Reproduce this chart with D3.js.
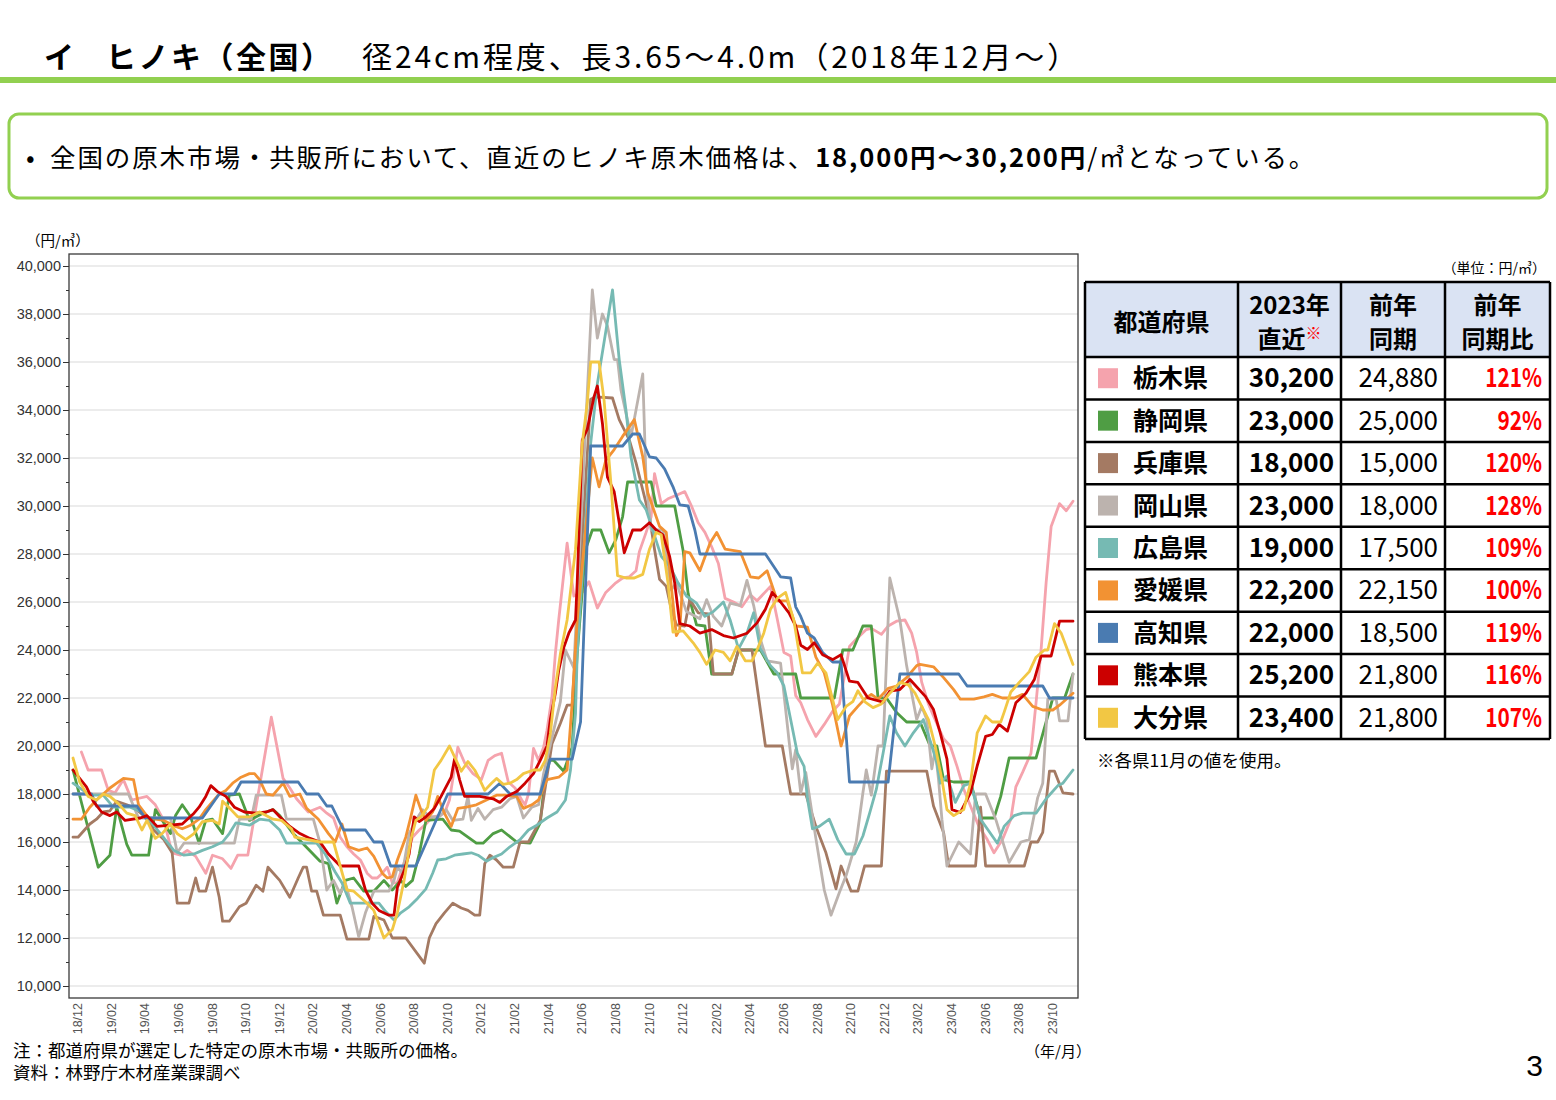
<!DOCTYPE html>
<html><head><meta charset="utf-8">
<script src="https://cdn.jsdelivr.net/npm/d3@7"></script>
<style>body{margin:0;background:#fff}svg{display:block}</style>
</head><body>
<svg id="c" width="1556" height="1100"></svg>
<script>
// ---- DATA (x = months since 2018/12, half-month resolution; y = 円/㎥) ----
const monthLabels = ["18/12","19/02","19/04","19/06","19/08","19/10","19/12","20/02","20/04","20/06","20/08","20/10","20/12","21/02","21/04","21/06","21/08","21/10","21/12","22/02","22/04","22/06","22/08","22/10","22/12","23/02","23/04","23/06","23/08","23/10"];
const yMajorTicks = [10000,12000,14000,16000,18000,20000,22000,24000,26000,28000,30000,32000,34000,36000,38000,40000];
const yMinorTicks = [11000,13000,15000,17000,19000,21000,23000,25000,27000,29000,31000,33000,35000,37000,39000];

const tochigi = [[0.5,19750],[0.9,19000],[1.7,19000],[2.1,18150],[2.5,18050],[3.0,18600],[3.5,17750],[4.4,17900],[4.9,17550],[5.4,16900],[5.9,15550],[6.4,15450],[6.8,15650],[7.3,15400],[7.9,14700],[8.3,15450],[8.9,15300],[9.4,14900],[9.8,15450],[10.4,15450],[11.8,21200],[12.5,18650],[12.9,18250],[13.3,17800],[14.0,17250],[14.7,17450],[15.1,17200],[15.5,17000],[15.9,16200],[16.3,15800],[16.7,15500],[17.1,15250],[17.5,14700],[17.8,14500],[18.1,14500],[18.4,14700],[18.7,14950],[19.0,14300],[19.3,14300],[19.6,14950],[19.9,15500],[20.2,16200],[20.6,16500],[21.0,16750],[21.4,17050],[21.8,17100],[22.1,17200],[22.4,17750],[22.9,19950],[23.3,19300],[23.8,18850],[24.3,18600],[24.7,19400],[25.1,19600],[25.5,19700],[25.9,18500],[26.3,18250],[26.7,17750],[26.9,17550],[27.1,18000],[27.4,19900],[27.7,19400],[28.0,19950],[28.2,20650],[28.5,22050],[28.7,23850],[28.9,25250],[29.4,28450],[29.8,26250],[30.3,26400],[30.7,26850],[31.2,25750],[31.7,26400],[32.3,26800],[32.7,27000],[33.1,27050],[33.5,27300],[33.7,28100],[34.1,28900],[34.4,29550],[34.6,31350],[35.0,30100],[35.4,30300],[35.9,30450],[36.4,30600],[36.8,30000],[37.2,29300],[37.6,28900],[38.0,28300],[38.4,27600],[38.8,26150],[39.3,26000],[39.8,25800],[40.3,26300],[40.7,26050],[41.5,26650],[41.9,25300],[42.3,23900],[42.7,23750],[43.0,22100],[43.3,21800],[43.7,21100],[44.2,20400],[44.7,20900],[45.2,21450],[45.6,21750],[46.0,23300],[46.2,24150],[46.6,24450],[47.2,24850],[47.5,24900],[48.1,24650],[48.5,25000],[49.0,25200],[49.5,25250],[49.9,24700],[50.2,23900],[50.5,22650],[50.9,21750],[51.2,21250],[51.8,20300],[52.2,20000],[52.6,19150],[53.0,18200],[53.4,17500],[53.9,16650],[54.4,16100],[54.8,15550],[55.3,16100],[55.8,16950],[56.1,18300],[56.5,18900],[57.0,19700],[57.3,21800],[57.6,24000],[57.9,26800],[58.2,29150],[58.7,30100],[59.1,29800],[59.5,30200]];

const shizuoka = [[0,19000],[1.5,14950],[2.2,15450],[2.6,17450],[3.2,15900],[3.5,15450],[4.5,15450],[4.9,17350],[5.8,16350],[6.1,17100],[6.5,17550],[7.0,17050],[7.5,15950],[7.9,16900],[8.3,16950],[8.9,16350],[9.3,17950],[9.9,18000],[10.5,16900],[11.3,17200],[11.9,17350],[12.3,17100],[13.1,16350],[14.7,15200],[15.2,15100],[15.7,13450],[16.2,14400],[16.7,14500],[17.3,13950],[17.9,13950],[18.5,14400],[19.0,14000],[19.5,14400],[19.8,14150],[20.2,14400],[20.6,15500],[21.0,16900],[22.0,16950],[22.5,16500],[23.0,16450],[24.0,15950],[24.4,15950],[25.0,16350],[25.5,16500],[26.4,16000],[27.2,15950],[27.8,16800],[28.2,19400],[28.6,19400],[29.2,18950],[29.7,19950],[30.0,23850],[30.5,28200],[30.9,29000],[31.4,29000],[31.9,28050],[32.3,28600],[32.7,29550],[33.0,31000],[34.4,31000],[34.7,30000],[35.8,30000],[36.3,28150],[36.6,26350],[37.1,25050],[37.6,25000],[38.0,23000],[39.2,23000],[39.6,24000],[40.9,24000],[41.7,23000],[43.0,23000],[43.3,22000],[45.3,22000],[45.8,24000],[46.4,24000],[47.0,25000],[47.5,25000],[47.9,22000],[48.4,22000],[49.0,21400],[49.6,21000],[50.4,21000],[51.0,20000],[51.4,20000],[51.8,18600],[52.4,18500],[53.4,18500],[54.0,17000],[54.8,17000],[55.2,17900],[55.7,19500],[57.3,19500],[57.9,21000],[58.3,22000],[59.0,22000],[59.5,23000]];

const hyogo = [[0,16200],[0.3,16200],[1.0,16750],[1.4,16950],[1.8,17250],[2.2,17300],[2.6,17700],[3.2,17550],[3.7,17400],[4.3,17050],[4.8,16500],[5.4,16100],[5.9,15550],[6.2,13450],[6.9,13450],[7.3,14500],[7.5,13950],[7.9,13950],[8.3,14950],[8.7,13700],[8.9,12700],[9.3,12700],[9.9,13300],[10.3,13450],[10.9,14200],[11.3,13950],[11.6,14950],[12.3,14400],[12.9,13700],[13.4,14500],[13.7,14950],[13.9,14950],[14.2,13950],[14.5,13950],[14.9,12950],[15.9,12950],[16.3,11950],[17.6,11950],[17.9,12900],[18.5,12750],[19.0,12000],[19.8,12000],[20.9,10950],[21.2,12000],[21.6,12600],[22.1,13050],[22.6,13450],[23.1,13250],[23.5,13150],[23.9,12950],[24.2,12950],[24.5,15100],[24.8,15450],[25.2,15250],[25.6,14950],[26.2,14950],[26.6,16000],[27.1,16000],[27.8,16900],[28.5,20100],[29.0,20950],[29.4,21700],[29.7,21700],[30.8,34450],[31.1,34550],[32.1,34500],[32.5,33600],[33.1,32750],[33.5,31800],[34.3,29550],[34.6,28200],[34.9,26950],[35.3,26650],[35.6,25700],[35.9,25050],[36.4,25000],[36.7,26100],[37.2,25550],[37.8,25500],[38.1,23000],[39.2,23000],[39.6,24000],[40.4,24000],[41.2,20000],[42.2,20000],[42.7,18000],[43.6,18000],[44.2,16650],[44.8,15550],[45.4,14050],[45.7,15000],[46.3,13950],[46.7,13950],[47.1,15000],[48.1,15000],[48.4,18950],[50.8,18950],[51.2,17500],[51.8,16400],[52.1,15000],[53.7,15000],[54.0,17450],[54.3,15000],[56.6,15000],[57.0,16000],[57.4,16000],[57.7,16400],[58.1,18950],[58.4,18950],[58.9,18050],[59.5,18000]];

const okayama = [[0,18000],[3.3,18000],[3.9,17000],[5.8,17000],[6.2,15550],[6.6,15950],[9.6,15950],[9.9,16950],[10.6,16950],[10.9,17950],[12.4,17950],[12.7,16950],[14.3,16950],[14.7,15950],[15.1,14000],[15.5,14400],[15.9,13850],[16.2,14300],[16.6,13300],[17.0,12050],[17.4,13050],[17.9,13950],[18.8,13950],[19.1,14400],[19.3,14950],[19.6,14700],[20.0,16350],[20.4,16900],[20.8,17350],[21.2,17050],[21.8,17050],[22.2,17350],[22.6,16900],[23.2,16950],[23.5,17900],[23.7,16900],[24.1,17400],[24.5,16950],[25.0,17350],[25.5,17450],[26.0,17800],[26.4,17900],[26.8,17000],[27.3,17450],[27.7,17550],[28.0,18850],[28.6,20650],[29.0,21850],[29.3,24000],[29.8,23250],[30.9,39000],[31.2,37000],[31.5,38000],[31.8,37500],[32.2,36100],[32.4,36100],[32.6,34850],[33.2,32900],[33.5,34000],[33.9,35500],[34.1,31000],[34.4,29000],[35.1,29000],[35.6,26500],[35.9,26800],[36.5,25600],[37.3,25300],[37.7,26100],[38.1,25400],[38.6,25000],[39.1,25950],[39.7,25850],[40.1,26900],[40.5,25850],[40.9,24450],[41.3,23550],[42.1,23450],[42.6,20250],[42.8,19050],[43.0,19850],[43.3,18050],[43.6,18900],[44.2,16150],[44.7,14000],[45.1,12950],[45.6,13900],[46.0,14600],[46.6,16000],[47.0,18050],[47.2,19000],[47.5,17950],[47.9,20000],[48.2,20000],[48.6,27000],[49.2,25250],[49.6,23350],[49.9,22200],[50.2,21100],[50.5,21650],[50.8,21100],[51.1,19050],[51.3,19850],[51.5,18600],[51.7,16950],[52.0,15000],[52.7,16000],[53.4,15500],[53.7,18000],[54.3,18000],[54.9,16950],[55.7,15150],[56.4,16000],[56.9,16100],[57.4,17850],[57.7,18450],[58.0,21950],[58.5,21950],[58.7,21050],[59.2,21050],[59.5,23000]];

const hiroshima = [[0,18450],[1.0,17950],[1.8,17950],[2.4,17450],[3.4,17450],[4.1,17250],[4.5,16950],[5.2,16350],[6.0,15650],[6.6,15450],[7.2,15500],[7.7,15650],[8.3,15800],[8.9,16000],[9.3,16350],[9.7,16800],[10.5,16700],[11.1,16950],[11.7,16900],[12.3,16500],[12.7,15950],[14.5,15950],[15.0,15500],[15.6,14750],[16.0,14300],[16.5,13450],[18.2,13450],[18.6,13100],[19.1,12750],[19.5,13050],[20.0,13300],[20.5,13650],[21.0,14050],[21.4,14700],[21.7,15250],[22.2,15300],[22.7,15450],[23.2,15500],[23.7,15550],[24.1,15450],[24.6,15200],[25.0,15350],[25.5,15500],[26.0,15800],[26.6,16100],[27.1,16500],[27.6,16700],[28.2,17000],[28.8,17250],[29.3,17750],[29.6,19000],[29.9,21350],[30.0,23850],[30.8,32600],[31.2,35100],[32.1,39000],[32.5,36100],[32.9,34000],[33.2,32050],[33.7,30250],[34.1,29850],[35.0,27900],[35.5,27500],[36.0,26800],[36.5,26250],[37.1,25950],[37.6,25400],[38.1,25600],[38.7,26000],[39.1,25250],[39.6,24050],[40.1,24700],[40.5,25550],[40.9,24050],[41.5,23350],[41.9,23050],[42.3,22500],[42.7,21100],[43.1,19700],[43.5,19150],[43.7,17800],[44.0,16550],[44.4,16650],[45.0,16950],[45.5,16100],[46.0,15500],[46.5,15500],[47.0,16250],[47.4,17200],[47.8,18200],[48.2,19700],[48.6,21250],[49.0,20550],[49.5,20000],[50.0,20550],[50.6,21100],[51.1,20000],[51.4,19300],[51.6,18450],[52.0,18750],[52.5,17650],[53.0,18350],[53.4,18450],[54.0,16950],[55.0,15950],[55.4,16650],[56.0,17100],[56.5,17200],[57.3,17200],[57.9,17800],[58.6,18350],[58.9,18450],[59.5,19000]];

const ehime = [[0,16950],[0.5,16950],[1.0,17450],[1.4,17750],[1.8,18000],[2.2,18250],[2.6,18450],[3.0,18650],[3.6,18600],[3.9,17550],[4.5,17000],[5.4,16900],[6.1,16650],[6.5,16550],[7.0,16700],[7.5,16950],[7.9,17350],[8.7,18000],[9.1,18150],[9.5,18450],[10.0,18700],[10.5,18850],[10.8,18850],[11.1,18600],[11.5,18000],[11.9,17950],[12.5,18450],[12.9,17900],[13.5,18000],[13.9,17400],[14.6,16950],[15.2,16350],[15.6,16000],[16.0,16750],[16.4,15800],[17.0,15650],[17.5,15750],[17.9,15400],[18.4,14700],[18.7,14500],[19.0,14550],[19.3,15250],[19.8,16200],[20.1,17050],[20.4,17950],[20.7,17350],[21.0,16900],[21.4,17250],[21.7,17900],[22.1,17200],[22.5,16650],[22.9,17400],[23.4,17450],[24.0,17550],[24.6,17750],[25.2,17950],[25.7,17950],[26.4,17900],[26.8,17400],[27.3,17550],[27.7,17750],[28.2,18600],[28.9,18700],[29.4,19000],[29.7,21800],[30.0,25250],[30.9,32000],[31.3,30800],[31.7,31900],[32.2,32350],[32.7,32900],[33.4,33600],[33.9,32050],[34.2,30550],[34.9,29150],[35.3,28900],[35.6,26650],[35.9,24600],[36.1,24850],[36.4,28100],[36.7,28050],[37.3,27300],[37.9,28450],[38.3,28900],[38.8,28200],[39.7,28100],[40.3,27050],[40.8,27000],[41.3,27300],[41.9,26050],[42.5,26050],[43.0,25000],[43.7,24950],[44.2,23700],[44.7,23050],[45.2,21700],[45.7,20000],[46.2,21250],[46.7,21650],[47.1,21950],[47.5,22150],[47.9,21950],[48.5,22400],[49.0,22500],[49.6,22850],[50.2,23350],[50.4,23400],[51.2,23300],[51.8,22850],[52.4,22350],[52.8,21950],[53.6,21950],[54.2,22050],[54.7,22150],[55.3,22000],[56.0,22000],[56.5,22150],[57.1,21650],[57.7,21500],[58.3,21500],[58.7,21700],[59.1,21950],[59.5,22200]];

const kochi = [[0,18000],[1.1,18000],[1.4,17500],[3.8,17500],[4.3,17000],[7.7,17000],[8.7,18000],[9.6,18000],[10.0,18500],[13.4,18500],[13.9,18000],[14.6,18000],[15.1,17500],[15.4,17500],[16.1,16500],[17.4,16500],[17.9,16000],[18.4,16000],[18.9,15000],[20.4,15000],[22.3,18000],[24.7,18000],[25.4,18450],[26.0,18000],[27.8,18000],[28.4,19450],[29.7,19450],[30.2,21000],[30.8,32500],[32.7,32500],[33.3,33000],[33.7,33000],[34.3,32050],[34.7,32000],[35.2,31550],[35.7,30800],[36.1,30050],[36.6,30000],[37.0,29000],[37.3,28000],[41.2,28000],[42.1,27050],[42.7,27000],[43.0,25800],[43.3,25400],[43.7,24700],[44.1,24500],[44.6,23900],[45.2,23500],[45.7,23500],[46.2,18500],[48.5,18500],[49.2,23000],[52.7,23000],[53.2,22500],[57.7,22500],[58.1,22000],[59.5,22000]];

const kumamoto = [[0,19000],[0.8,18300],[1.2,17700],[1.7,17250],[2.2,17100],[2.6,17250],[3.1,16900],[4.0,17000],[4.4,17100],[5.0,16650],[5.8,16700],[6.5,16750],[7.2,17200],[7.5,17450],[7.9,17900],[8.2,18350],[8.6,18100],[9.1,17900],[9.6,17450],[10.2,17250],[10.9,17200],[11.5,17250],[11.9,17350],[12.3,17050],[12.9,16650],[13.5,16350],[14.1,16150],[14.7,16000],[15.2,15500],[15.9,15000],[17.0,15000],[17.4,14000],[17.8,13450],[18.2,13150],[18.8,12950],[19.1,12950],[19.3,14100],[19.7,14800],[20.0,15500],[20.3,17050],[20.6,16850],[21.0,17050],[21.5,17400],[21.9,17900],[22.5,18700],[22.7,19450],[23.0,18600],[23.3,17900],[24.2,17900],[25.0,17800],[25.4,17650],[25.8,17900],[26.4,18100],[26.9,18450],[27.4,18850],[27.8,19400],[28.2,20000],[28.4,21100],[28.7,22200],[28.9,23150],[29.2,24100],[29.5,24700],[29.9,25250],[30.0,26800],[30.3,32750],[30.6,33200],[31.0,34550],[31.2,35000],[31.5,33450],[31.8,31200],[32.2,30600],[32.5,29300],[32.8,28050],[33.3,29000],[33.8,29000],[34.3,29300],[34.7,29000],[35.1,28800],[35.5,27900],[35.8,26800],[36.1,25100],[36.7,25000],[37.3,24700],[38.0,24850],[38.7,24600],[39.3,24500],[40.1,24700],[40.7,25130],[41.2,25700],[41.6,26400],[42.1,26000],[42.6,25550],[43.0,25000],[43.3,24200],[43.7,24020],[44.1,24300],[44.6,23800],[45.2,23600],[45.7,23800],[46.2,22700],[46.7,22650],[47.3,22000],[48.2,21830],[48.6,22290],[49.2,22350],[49.8,22770],[50.7,22080],[51.2,21520],[51.6,20550],[52.0,19450],[52.3,17350],[52.8,17230],[53.4,18050],[53.8,19170],[54.3,20400],[54.7,20480],[55.1,20900],[55.6,20620],[56.1,21800],[56.7,22200],[57.2,22770],[57.6,23750],[58.2,23750],[58.7,25200],[59.5,25200]];

const oita = [[0,19500],[0.4,18500],[0.9,17900],[1.4,17750],[1.8,18000],[2.2,17900],[2.7,17600],[3.2,17200],[3.7,17100],[4.1,16500],[4.4,16900],[4.9,16150],[5.3,16350],[5.8,16750],[6.2,16350],[6.7,16100],[7.2,16350],[7.7,16850],[8.3,16900],[8.7,16750],[8.9,17700],[9.4,17350],[9.8,17050],[10.5,17050],[11.1,17250],[11.9,16950],[12.4,16900],[13.0,16550],[13.2,16200],[14.7,16000],[15.5,16000],[15.8,15250],[16.3,14000],[16.7,13950],[17.1,13700],[17.5,13450],[17.9,13150],[18.5,12000],[19.0,12350],[19.3,13050],[19.7,14400],[20.1,16100],[20.4,16900],[20.7,17050],[21.1,17450],[21.5,19000],[21.9,19400],[22.4,20000],[22.8,19400],[23.1,18950],[23.5,19350],[23.9,19000],[24.2,18600],[24.5,18150],[24.9,18450],[25.2,18650],[25.6,18400],[26.0,18450],[26.4,18600],[26.8,18850],[27.4,19000],[27.8,19000],[28.1,19400],[28.4,20500],[28.7,22450],[29.0,23850],[29.4,25250],[29.9,28200],[30.3,32600],[30.6,34300],[30.8,36000],[31.3,36000],[31.6,34400],[32.0,31000],[32.4,27100],[32.9,27000],[33.4,27000],[33.9,27150],[34.3,28200],[34.7,28900],[35.0,28800],[35.4,26800],[35.7,24750],[36.3,24800],[36.9,24300],[37.3,23900],[37.7,23400],[38.2,24000],[38.7,23900],[39.1,23550],[39.5,24150],[40.0,23550],[40.4,23550],[40.7,24000],[41.1,24700],[41.5,25700],[41.9,26150],[42.4,26400],[42.9,25200],[43.2,23900],[43.4,23050],[43.9,23050],[44.3,23450],[44.8,23050],[45.1,22200],[45.5,21100],[46.0,21650],[46.4,21850],[46.7,22300],[47.1,21850],[47.6,21600],[48.1,21750],[48.6,22200],[49.2,22650],[49.7,22550],[50.1,22200],[50.5,21650],[50.9,21100],[51.3,20000],[51.7,18600],[52.0,17350],[52.4,17100],[53.0,17350],[53.4,18450],[53.8,20550],[54.3,21250],[54.7,21000],[55.2,21000],[55.4,21400],[55.8,22250],[56.3,22650],[56.9,23100],[57.3,23700],[57.8,24000],[58.0,24000],[58.4,25100],[58.8,24700],[59.5,23400]];

const prefectures = ["栃木県","静岡県","兵庫県","岡山県","広島県","愛媛県","高知県","熊本県","大分県"];
const latest2023 = [30200,23000,18000,23000,19000,22200,22000,25200,23400];
const prevYear = [24880,25000,15000,18000,17500,22150,18500,21800,21800];
const yoyRatio = [121,92,120,128,109,100,119,116,107];
const seriesData = [tochigi,shizuoka,hyogo,okayama,hiroshima,ehime,kochi,kumamoto,oita];
const colors = ["#f5a3ad","#4f9d44","#a47a63","#bcb3ae","#76bab3","#f29233","#4a7bb1","#cc0000","#f2c744"];

// ---- DRAW ----
const jp = "'Noto Sans CJK JP','Noto Sans CJK SC',sans-serif";
const svg = d3.select("#c");
svg.append("rect").attr("width",1556).attr("height",1100).attr("fill","#fff");

// Title
svg.append("text").attr("x",44).attr("y",68).attr("font-family",jp).attr("font-weight",700).attr("font-size",30).text("イ");
svg.append("text").attr("x",106).attr("y",68).attr("font-family",jp).attr("font-weight",700).attr("font-size",30).attr("letter-spacing",2.5).text("ヒノキ（全国）");
svg.append("text").attr("x",362).attr("y",68).attr("font-family",jp).attr("font-weight",400).attr("font-size",30).attr("letter-spacing",2.9).text("径24cm程度、長3.65～4.0m（2018年12月～）");
svg.append("rect").attr("x",0).attr("y",77).attr("width",1556).attr("height",6).attr("fill","#92d050");

// Summary box
svg.append("rect").attr("x",9).attr("y",114).attr("width",1538).attr("height",84).attr("rx",10)
  .attr("fill","#fff").attr("stroke","#92d050").attr("stroke-width",3);
svg.append("text").attr("x",26).attr("y",167).attr("font-family",jp).attr("font-size",25.5).text("•");
const bt = svg.append("text").attr("x",50).attr("y",167).attr("font-family",jp).attr("font-size",25.5).attr("letter-spacing",1.9).attr("fill","#000");
bt.append("tspan").text("全国の原木市場・共販所において、直近のヒノキ原木価格は、");
bt.append("tspan").attr("font-weight",700).text("18,000円～30,200円");
bt.append("tspan").text("/㎥となっている。");

// Chart scales
const x = d3.scaleLinear().domain([0,59.5]).range([73,1073]);
const y = d3.scaleLinear().domain([9500,40500]).range([998,254]);
const plot = {l:69,r:1078,t:254,b:998};

svg.append("g").selectAll("line").data(yMajorTicks).join("line")
  .attr("x1",plot.l).attr("x2",plot.r).attr("y1",d=>y(d)).attr("y2",d=>y(d))
  .attr("stroke","#d9d9d9").attr("stroke-width",1);

// lines
svg.append("clipPath").attr("id","pc").append("rect").attr("x",plot.l).attr("y",plot.t).attr("width",plot.r-plot.l).attr("height",plot.b-plot.t);
const line = d3.line().x(d=>x(d[0])).y(d=>y(d[1]));
svg.append("g").attr("clip-path","url(#pc)").selectAll("path").data(seriesData).join("path")
  .attr("d",d=>line(d)).attr("fill","none").attr("stroke",(d,i)=>colors[i])
  .attr("stroke-width",2.8).attr("stroke-linejoin","round").attr("stroke-linecap","round");

svg.append("rect").attr("x",plot.l).attr("y",plot.t).attr("width",plot.r-plot.l).attr("height",plot.b-plot.t)
  .attr("fill","none").attr("stroke","#3a3a3a").attr("stroke-width",1.3);

// y axis
const ya = svg.append("g").attr("transform",`translate(${plot.l},0)`)
  .call(d3.axisLeft(y).tickValues(yMajorTicks).tickSize(6).tickPadding(2).tickFormat(d3.format(",")));
ya.select(".domain").remove();
ya.selectAll("line").attr("stroke","#333");
ya.selectAll("text").attr("font-family","'Liberation Sans',Arial,sans-serif").attr("font-size",14.5).attr("fill","#333");
const ym = svg.append("g").attr("transform",`translate(${plot.l},0)`)
  .call(d3.axisLeft(y).tickValues(yMinorTicks).tickSize(3).tickFormat(""));
ym.select(".domain").remove();
ym.selectAll("line").attr("stroke","#333");
svg.append("text").attr("x",26).attr("y",246).attr("font-family",jp).attr("font-size",14.5).text("（円/㎥）");

// x axis
const xa = svg.append("g").attr("transform",`translate(0,${plot.b})`)
  .call(d3.axisBottom(x).tickValues(monthLabels.map((d,i)=>2*i+0.25)).tickSize(0).tickFormat((d,i)=>monthLabels[i]));
xa.select(".domain").remove();
xa.selectAll("text").attr("transform","rotate(-90)").attr("text-anchor","end")
  .attr("x",-5).attr("y",0).attr("dy","0.35em")
  .attr("font-family","'Liberation Sans',Arial,sans-serif").attr("font-size",12.5).attr("fill","#555");
svg.append("text").attr("x",1091).attr("y",1057).attr("text-anchor","end").attr("font-family",jp).attr("font-size",15).text("（年/月）");

// footnotes
svg.append("text").attr("x",13).attr("y",1057).attr("font-family",jp).attr("font-size",17.5).text("注：都道府県が選定した特定の原木市場・共販所の価格。");
svg.append("text").attr("x",13).attr("y",1079).attr("font-family",jp).attr("font-size",17.5).text("資料：林野庁木材産業課調べ");
svg.append("text").attr("x",1543).attr("y",1076).attr("text-anchor","end").attr("font-family","'Liberation Sans',Arial,sans-serif").attr("font-size",30).text("3");

// ---- TABLE ----
const cols = [1085,1238,1341,1445,1550];
const hTop = 282, hBot = 357, tBot = 739;
const rowH = (tBot-hBot)/prefectures.length;
const tg = svg.append("g");
tg.append("rect").attr("x",cols[0]).attr("y",hTop).attr("width",cols[4]-cols[0]).attr("height",hBot-hTop).attr("fill","#dae3f3");
svg.append("text").attr("x",1546).attr("y",273).attr("text-anchor","end").attr("font-family",jp).attr("font-size",14).text("（単位：円/㎥）");

const hdr = (cx, lines, yy) => lines.forEach((l,i)=>{
  const t = tg.append("text").attr("x",cx).attr("y",yy[i]).attr("text-anchor","middle")
    .attr("font-family",jp).attr("font-weight",700).attr("font-size",24);
  if (Array.isArray(l)) { t.append("tspan").text(l[0]); t.append("tspan").attr("fill","#ff0000").attr("font-size",16).attr("dy",-9).text(l[1]); }
  else t.text(l);
});
hdr((cols[0]+cols[1])/2, ["都道府県"], [331]);
hdr((cols[1]+cols[2])/2, ["2023年",["直近","※"]], [314,348]);
hdr((cols[2]+cols[3])/2, ["前年","同期"], [314,348]);
hdr((cols[3]+cols[4])/2, ["前年","同期比"], [314,348]);

const fmt = d3.format(",");
prefectures.forEach((p,i)=>{
  const y0 = hBot + i*rowH, cy = y0 + rowH/2;
  tg.append("rect").attr("x",1098).attr("y",cy-10).attr("width",20).attr("height",20).attr("fill",colors[i]);
  tg.append("text").attr("x",1133).attr("y",cy+9).attr("font-family",jp).attr("font-weight",700).attr("font-size",25).text(p);
  tg.append("text").attr("x",1334).attr("y",cy+9).attr("text-anchor","end").attr("font-family",jp).attr("font-weight",700).attr("font-size",26).text(fmt(latest2023[i]));
  tg.append("text").attr("x",1438).attr("y",cy+9).attr("text-anchor","end").attr("font-family",jp).attr("font-weight",400).attr("font-size",26).text(fmt(prevYear[i]));
  tg.append("text").attr("transform",`translate(1542,${cy+9}) scale(0.8,1)`).attr("text-anchor","end")
    .attr("font-family",jp).attr("font-weight",700).attr("font-size",26).attr("fill","#ff0000").text(yoyRatio[i]+"%");
});
const hl = [hTop,hBot].concat(d3.range(1,prefectures.length).map(k=>hBot+k*rowH)).concat([tBot]);
tg.selectAll("line.h").data(hl).join("line").attr("class","h").attr("x1",cols[0]).attr("x2",cols[4]).attr("y1",d=>d).attr("y2",d=>d).attr("stroke","#000").attr("stroke-width",2.5);
tg.selectAll("line.v").data(cols).join("line").attr("class","v").attr("x1",d=>d).attr("x2",d=>d).attr("y1",hTop).attr("y2",tBot).attr("stroke","#000").attr("stroke-width",2.5);
svg.append("text").attr("x",1097).attr("y",767).attr("font-family",jp).attr("font-size",17.5).text("※各県11月の値を使用。");
</script>
</body></html>
